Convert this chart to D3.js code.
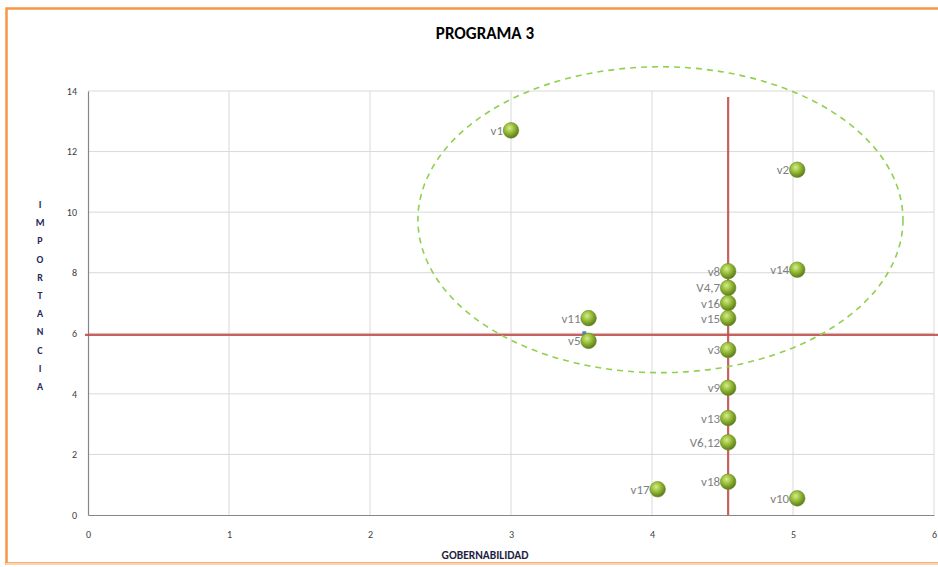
<!DOCTYPE html>
<html><head><meta charset="utf-8">
<script src="https://cdn.jsdelivr.net/npm/d3@7"></script>
<style>body{margin:0;background:#fff;}svg{display:block;font-family:Carlito,Calibri,"Liberation Sans",Arial,sans-serif;}</style>
</head><body>
<svg id="c" width="938" height="567"></svg>
<script>
const labels = ["v1","v2","v14","v8","V4,7","v16","v15","v11","v5","v3","v9","v13","V6,12","v18","v17","v10"];
const gobernabilidad = [3.0,5.03,5.03,4.54,4.54,4.54,4.54,3.55,3.55,4.54,4.54,4.54,4.54,4.54,4.04,5.03];
const importancia = [12.7,11.4,8.1,8.05,7.5,7.0,6.5,6.5,5.75,5.45,4.2,3.2,2.4,1.1,0.85,0.55];
const xTicks = [0,1,2,3,4,5,6];
const yTicks = [0,2,4,6,8,10,12,14];
const refX = 4.54, refY = 5.95;
const ellipse = {cx:4.06, cy:9.75, rx:1.72, ry:5.05};

const svg = d3.select("#c");
const x = d3.scaleLinear().domain([0,6]).range([88,934]);
const y = d3.scaleLinear().domain([0,14]).range([515,91]);

// frame
svg.append("rect").attr("x",6.5).attr("y",8.5).attr("width",950).attr("height",555)
  .attr("fill","#fff").attr("stroke","#f79646").attr("stroke-width",2.5);
svg.append("line").attr("x1",6).attr("x2",938).attr("y1",564).attr("y2",564).attr("stroke","#fcd5b4").attr("stroke-width",2);

// title
svg.append("text").attr("x",485).attr("y",39).attr("text-anchor","middle")
  .attr("font-size",17).attr("font-weight","bold").attr("fill","#000").text("PROGRAMA 3");

// grid
const g = svg.append("g");
g.selectAll(".gx").data(xTicks.slice(1)).join("line")
  .attr("x1",d=>x(d)).attr("x2",d=>x(d)).attr("y1",y(14)).attr("y2",y(0))
  .attr("stroke","#d9d9d9").attr("stroke-width",1);
g.selectAll(".gy").data(yTicks.slice(1)).join("line")
  .attr("x1",x(0)).attr("x2",x(6)).attr("y1",d=>y(d)).attr("y2",d=>y(d))
  .attr("stroke","#d9d9d9").attr("stroke-width",1);

// axes
const xa = svg.append("g").attr("transform",`translate(0,${y(0)})`)
  .call(d3.axisBottom(x).tickValues(xTicks).tickSize(0).tickPadding(16).tickFormat(d3.format("d")));
xa.select(".domain").attr("stroke","#868686").attr("stroke-width",1.2);
xa.selectAll("text").attr("font-size",10).attr("fill","#404040").attr("font-family","Carlito,Calibri,'Liberation Sans',sans-serif");
const ya = svg.append("g").attr("transform",`translate(${x(0)},0)`)
  .call(d3.axisLeft(y).tickValues(yTicks).tickSize(0).tickPadding(11).tickFormat(d3.format("d")));
ya.select(".domain").attr("stroke","#868686").attr("stroke-width",1.2);
ya.selectAll("text").attr("font-size",10).attr("fill","#404040").attr("font-family","Carlito,Calibri,'Liberation Sans',sans-serif");

// axis titles
svg.append("text").attr("x",485).attr("y",559).attr("text-anchor","middle")
  .attr("font-size",11.5).attr("font-weight","bold").attr("fill","#1f1f3f").text("GOBERNABILIDAD");
const yt = "IMPORTANCIA".split("");
svg.append("g").selectAll("text").data(yt).join("text")
  .attr("x",40).attr("y",(d,i)=>208+i*18.2).attr("text-anchor","middle")
  .attr("font-size",10).attr("font-weight","bold").attr("fill","#1f2a5a").text(d=>d);

// reference lines
svg.append("line").attr("x1",x(0)-3).attr("x2",x(6)+4).attr("y1",y(refY)).attr("y2",y(refY))
  .attr("stroke","#c0504d").attr("stroke-width",2.2).attr("opacity",0.9);
svg.append("line").attr("x1",x(refX)).attr("x2",x(refX)).attr("y1",y(13.8)).attr("y2",y(0))
  .attr("stroke","#c0504d").attr("stroke-width",2.2).attr("opacity",0.9);

// ellipse
svg.append("ellipse").attr("cx",x(ellipse.cx)).attr("cy",y(ellipse.cy))
  .attr("rx",x(ellipse.rx)-x(0)).attr("ry",y(0)-y(ellipse.ry))
  .attr("fill","none").attr("stroke","#8fd14f").attr("stroke-width",1.6).attr("stroke-dasharray","6,5");

// gradient
const defs = svg.append("defs");
const rg = defs.append("radialGradient").attr("id","ball").attr("cx","40%").attr("cy","35%").attr("r","65%");
rg.append("stop").attr("offset","0%").attr("stop-color","#d6eb8f");
rg.append("stop").attr("offset","45%").attr("stop-color","#9bc03b");
rg.append("stop").attr("offset","100%").attr("stop-color","#5a7a1c");

// small blue marker
svg.append("rect").attr("x",x(3.52)-2).attr("y",y(6.0)-2).attr("width",4).attr("height",4).attr("fill","#4f81bd");

const data = labels.map((l,i)=>({l, gx:gobernabilidad[i], iy:importancia[i]}));
svg.append("g").selectAll("circle").data(data).join("circle")
  .attr("cx",d=>x(d.gx)).attr("cy",d=>y(d.iy)).attr("r",7.8)
  .attr("fill","url(#ball)").attr("stroke","#6b8e23").attr("stroke-width",0.6);
svg.append("g").selectAll("text").data(data).join("text")
  .attr("x",d=>x(d.gx)-8).attr("y",d=>y(d.iy)+4.5).attr("text-anchor","end")
  .attr("font-size",13).attr("fill","#7f7f7f").text(d=>d.l);
</script>
</body></html>
